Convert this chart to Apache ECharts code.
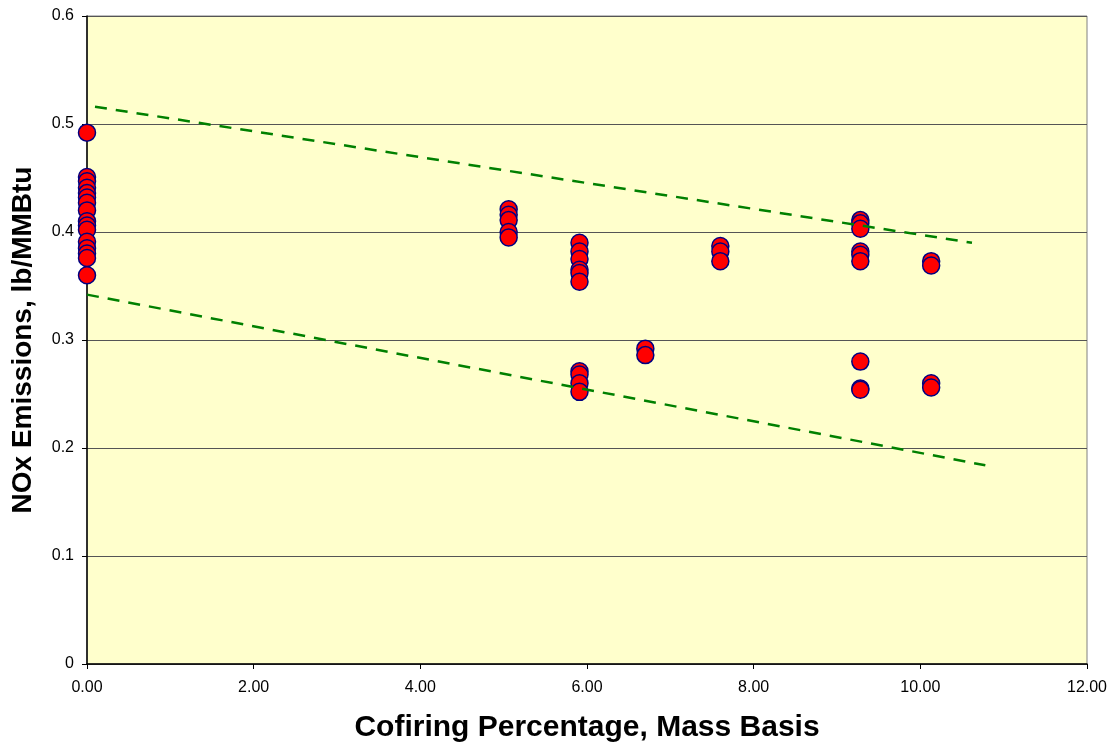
<!DOCTYPE html>
<html>
<head>
<meta charset="utf-8">
<script src="https://cdn.jsdelivr.net/npm/echarts@6/dist/echarts.min.js"></script>
<style>
html,body{margin:0;padding:0;background:#fff;}
#chart{width:1111px;height:742px;}
</style>
</head>
<body>
<div id="chart"></div>
<script>
// Cofiring percentage (x) and NOx emissions (y)
const xValues = [
  0,0,0,0,0,0,0,0,0,0,0,0,0,0,0,0,
  5.06,5.06,5.06,5.06,5.06,
  5.91,5.91,5.91,5.91,5.91,5.91,5.91,5.91,5.91,5.91,
  6.70,6.70,
  7.60,7.60,7.60,
  9.28,9.28,9.28,9.28,9.28,9.28,9.28,9.28,9.28,
  10.13,10.13,10.13,10.13
];
const yValues = [
  0.492,0.451,0.447,0.441,0.436,0.432,0.427,0.420,0.410,0.406,0.402,0.391,0.385,0.380,0.376,0.360,
  0.421,0.416,0.411,0.400,0.395,
  0.390,0.382,0.375,0.365,0.362,0.354,0.271,0.268,0.260,0.252,
  0.292,0.286,
  0.387,0.382,0.373,
  0.411,0.408,0.403,0.382,0.379,0.373,0.280,0.255,0.254,
  0.373,0.369,0.260,0.256
];
const upperLineX = [0.096, 10.62];
const upperLineY = [0.516, 0.390];
const lowerLineX = [0.0, 10.78];
const lowerLineY = [0.342, 0.184];
const xTicks = [0, 2, 4, 6, 8, 10, 12];
const yTicks = [0, 0.1, 0.2, 0.3, 0.4, 0.5, 0.6];
const xTitle = 'Cofiring Percentage, Mass Basis';
const yTitle = 'NOx Emissions, lb/MMBtu';

const pts = xValues.map((x, i) => [x, yValues[i]]);
const up = upperLineX.map((x, i) => [x, upperLineY[i]]);
const lo = lowerLineX.map((x, i) => [x, lowerLineY[i]]);

const chart = echarts.init(document.getElementById('chart'), null, {renderer: 'canvas'});
const font = 'Liberation Sans, Arial, sans-serif';
const dashStyle = {color: '#008000', width: 2.5, type: [12, 9]};

chart.setOption({
  animation: false,
  backgroundColor: '#ffffff',
  grid: {
    left: 87, right: 24, top: 16, bottom: 78,
    containLabel: false, outerBoundsMode: 'none',
    show: true, backgroundColor: '#FFFFCC', borderColor: '#808080', borderWidth: 1
  },
  xAxis: {
    type: 'value', min: xTicks[0], max: xTicks[xTicks.length - 1], interval: 2,
    name: xTitle, nameLocation: 'middle', nameGap: 49,
    nameTextStyle: {fontFamily: font, fontSize: 30, fontWeight: 'bold', color: '#000'},
    axisLine: {show: true, onZero: false, lineStyle: {color: '#000', width: 1.5}},
    axisTick: {show: true, length: 5, inside: false, lineStyle: {color: '#000'}},
    axisLabel: {fontFamily: font, fontSize: 16, color: '#000', margin: 16,
      formatter: v => v.toFixed(2)},
    splitLine: {show: false}
  },
  yAxis: {
    type: 'value', min: yTicks[0], max: yTicks[yTicks.length - 1], interval: 0.1,
    name: yTitle, nameLocation: 'middle', nameGap: 50, nameRotate: 90,
    nameTextStyle: {fontFamily: font, fontSize: 28, fontWeight: 'bold', color: '#000'},
    axisLine: {show: true, onZero: false, lineStyle: {color: '#000', width: 1.5}},
    axisTick: {show: true, length: 5, inside: false, lineStyle: {color: '#000'}},
    axisLabel: {fontFamily: font, fontSize: 16, color: '#000', margin: 13,
      formatter: v => (v === 0 ? '0' : v.toFixed(1))},
    splitLine: {show: true, lineStyle: {color: '#555555', width: 1}}
  },
  series: [
    {
      type: 'line', data: up, symbol: 'none', silent: true,
      lineStyle: dashStyle, z: 3
    },
    {
      type: 'line', data: lo, symbol: 'none', silent: true,
      lineStyle: dashStyle, z: 3
    },
    {
      type: 'scatter', data: pts, symbol: 'circle', symbolSize: 17,
      itemStyle: {color: '#FF0000', borderColor: '#000080', borderWidth: 1.5, opacity: 1},
      z: 2
    }
  ]
});
</script>
</body>
</html>
